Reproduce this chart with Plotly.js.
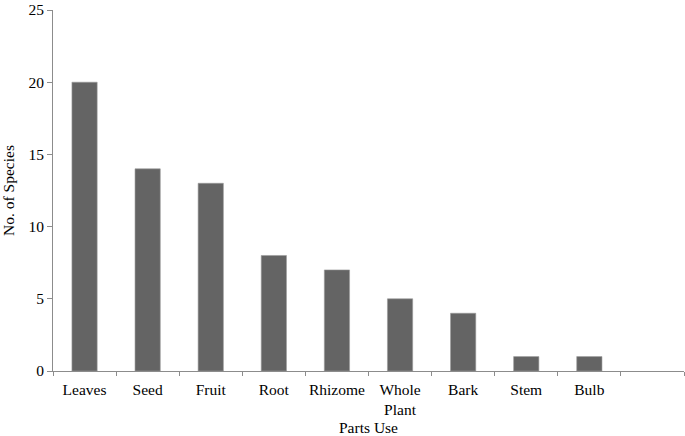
<!DOCTYPE html>
<html>
<head>
<meta charset="utf-8">
<script src="https://cdn.plot.ly/plotly-3.0.1.min.js"></script>
<style>
  html, body { margin: 0; padding: 0; background: #fff; }
  #chart { width: 685px; height: 436px; }
</style>
</head>
<body>
<div id="chart"></div>
<script>
// Plant parts used, number of species per part
const parts = ['Leaves', 'Seed', 'Fruit', 'Root', 'Rhizome', 'Whole<br>Plant', 'Bark', 'Stem', 'Bulb', ' '];
const species = [20, 14, 13, 8, 7, 5, 4, 1, 1, null];

const axisColor = '#8c8c8c';
const font = { family: '"Liberation Serif", "Times New Roman", serif', size: 15.5, color: '#000' };

Plotly.newPlot('chart', [
  {
    x: parts,
    y: species,
    type: 'bar',
    marker: { color: '#646464', line: { color: '#9a9a9a', width: 0.6 } },
    hoverinfo: 'skip',
  },
], {
  font: font,
  showlegend: false,
  bargap: 0.6,
  xaxis: {
    type: 'category',
    categoryorder: 'array',
    categoryarray: parts,
    range: [-0.5, 9.5],
    showline: true,
    linecolor: axisColor,
    linewidth: 1,
    ticks: 'outside',
    tickson: 'boundaries',
    ticklen: 4,
    tickcolor: axisColor,
    tickangle: 0,
    ticklabelstandoff: 4,
    showgrid: false,
    zeroline: false,
    tickfont: font,
    title: { text: 'Parts Use', font: font, standoff: 6 },
  },
  yaxis: {
    range: [0, 25],
    dtick: 5,
    showline: true,
    linecolor: axisColor,
    linewidth: 1,
    ticks: 'outside',
    ticklen: 5,
    tickcolor: axisColor,
    ticklabeloverflow: 'allow',
    showgrid: false,
    zeroline: false,
    tickfont: font,
    title: { text: 'No. of Species', font: font, standoff: 14 },
  },
  margin: { t: 10, r: 1, l: 53, b: 65 },
  paper_bgcolor: '#ffffff',
  plot_bgcolor: '#ffffff',
}, { displayModeBar: false, staticPlot: true });
</script>
</body>
</html>
